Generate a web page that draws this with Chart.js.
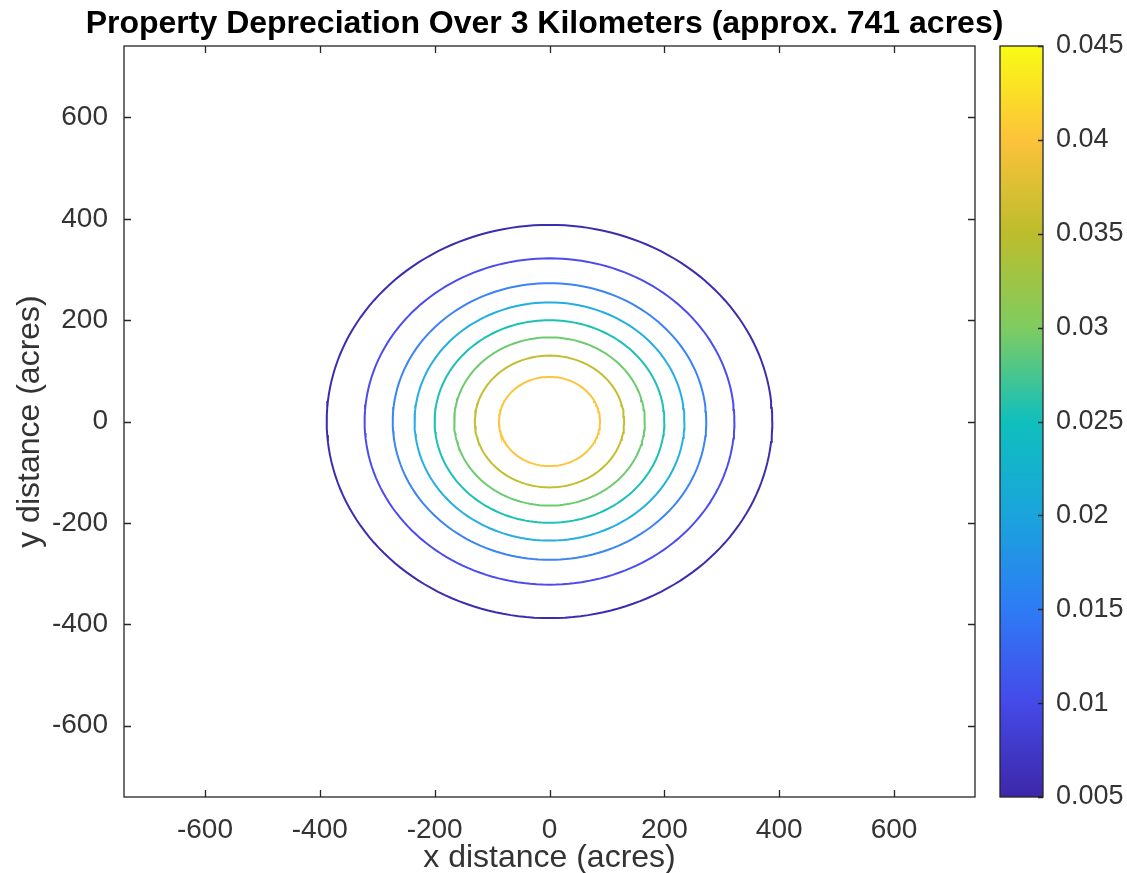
<!DOCTYPE html>
<html>
<head>
<meta charset="utf-8">
<script src="https://cdn.jsdelivr.net/npm/chart.js@4"></script>
<style>
  body { margin: 0; background: #fff; }
  #wrap { width: 1127px; height: 873px; }
</style>
</head>
<body>
<div id="wrap"><canvas id="contourChart"></canvas></div>
<script>
// contour levels and the radius (acres) each level crosses
const levels = [0.005, 0.01, 0.015, 0.02, 0.025, 0.03, 0.035, 0.04];
const radii = [388, 322, 273, 235, 200, 166, 130, 88];
const levelColors = ['#3b2db0', '#4a4cf0', '#3a84f5', '#24aee2', '#1cc0b4', '#6ccb70', '#c3bd30', '#fcc53a'];

const axisLimit = 741;
const xTicks = [-600, -400, -200, 0, 200, 400, 600];
const yTicks = [-600, -400, -200, 0, 200, 400, 600];

// colorbar
const cbTicks = [0.005, 0.01, 0.015, 0.02, 0.025, 0.03, 0.035, 0.04, 0.045];
const cbColors = ['#3d27a8', '#4549e8', '#2e7bf5', '#1aa4dc', '#10bfbd', '#7fcc60', '#bcbd2c', '#fcc23a', '#f9fb14'];

const chartTitle = 'Property Depreciation Over 3 Kilometers (approx. 741 acres)';
const fontFamily = 'Liberation Sans, Arial, sans-serif';
const textColor = '#333333';
const lineColor = '#262626';

document.addEventListener('DOMContentLoaded', function() {
    const datasets = levels.map(function(level, i) {
        const pts = [];
        for (let k = 0; k <= 180; k++) {
            const a = k / 180 * Math.PI * 2;
            pts.push({ x: radii[i] * Math.cos(a), y: radii[i] * Math.sin(a) });
        }
        return {
            label: String(level),
            data: pts,
            showLine: true,
            borderColor: levelColors[i],
            borderWidth: 2,
            pointRadius: 0,
            tension: 0
        };
    });

    // title, box, inward ticks and the colorbar
    const framePlugin = {
        id: 'frame',
        afterDraw: function(chart) {
            const ctx = chart.ctx;
            const area = chart.chartArea;
            const xs = chart.scales.x, ys = chart.scales.y, cb = chart.scales.cb;
            ctx.save();

            ctx.fillStyle = '#000';
            ctx.font = 'bold 32px ' + fontFamily;
            ctx.textAlign = 'center';
            ctx.textBaseline = 'middle';
            ctx.fillText(chartTitle, (area.left + area.right) / 2 - 5, 24);

            ctx.strokeStyle = lineColor;
            ctx.lineWidth = 1.3;
            ctx.strokeRect(area.left, area.top, area.right - area.left, area.bottom - area.top);
            ctx.beginPath();
            xTicks.forEach(function(v) {
                const px = Math.round(xs.getPixelForValue(v)) + 0.5;
                ctx.moveTo(px, area.bottom); ctx.lineTo(px, area.bottom - 7);
                ctx.moveTo(px, area.top); ctx.lineTo(px, area.top + 7);
            });
            yTicks.forEach(function(v) {
                const py = Math.round(ys.getPixelForValue(v)) + 0.5;
                ctx.moveTo(area.left, py); ctx.lineTo(area.left + 7, py);
                ctx.moveTo(area.right, py); ctx.lineTo(area.right - 7, py);
            });
            ctx.stroke();

            const barL = cb.left + 25, barR = cb.left + 68;
            const grad = ctx.createLinearGradient(0, area.bottom, 0, area.top);
            cbColors.forEach(function(c, i) { grad.addColorStop(i / (cbColors.length - 1), c); });
            ctx.fillStyle = grad;
            ctx.fillRect(barL, area.top, barR - barL, area.bottom - area.top);
            ctx.strokeRect(barL, area.top, barR - barL, area.bottom - area.top);
            ctx.beginPath();
            cbTicks.forEach(function(v) {
                const py = Math.round(cb.getPixelForValue(v)) + 0.5;
                ctx.moveTo(barR, py); ctx.lineTo(barR - 5, py);
            });
            ctx.stroke();

            ctx.fillStyle = textColor;
            ctx.font = '27px ' + fontFamily;
            ctx.textAlign = 'left';
            cbTicks.forEach(function(v) {
                ctx.fillText(String(+v.toFixed(3)), barR + 13, cb.getPixelForValue(v));
            });
            ctx.restore();
        }
    };

    const ctx = document.getElementById('contourChart').getContext('2d');
    new Chart(ctx, {
        type: 'scatter',
        data: { datasets: datasets },
        plugins: [framePlugin],
        options: {
            responsive: true,
            maintainAspectRatio: false,
            animation: false,
            layout: { padding: { top: 46, right: 0, bottom: 0, left: 0 } },
            scales: {
                x: {
                    type: 'linear',
                    min: -axisLimit,
                    max: axisLimit,
                    afterBuildTicks: function(scale) { scale.ticks = xTicks.map(function(v) { return { value: v }; }); },
                    afterFit: function(scale) { scale.height = 76; },
                    grid: { display: false, drawTicks: false },
                    border: { display: false },
                    ticks: { color: textColor, font: { family: fontFamily, size: 28 }, padding: 16, maxRotation: 0 },
                    title: { display: true, text: 'x distance (acres)', color: textColor, font: { family: fontFamily, size: 32 }, padding: { top: 0, bottom: -4 } }
                },
                y: {
                    type: 'linear',
                    min: -axisLimit,
                    max: axisLimit,
                    afterBuildTicks: function(scale) { scale.ticks = yTicks.map(function(v) { return { value: v }; }); },
                    afterFit: function(scale) { scale.width = 124; },
                    grid: { display: false, drawTicks: false },
                    border: { display: false },
                    ticks: { color: textColor, font: { family: fontFamily, size: 28 }, padding: 16 },
                    title: { display: true, text: 'y distance (acres)', color: textColor, font: { family: fontFamily, size: 32 }, padding: { top: 11, bottom: 0 } }
                },
                cb: {
                    type: 'linear',
                    position: 'right',
                    min: 0.005,
                    max: 0.045,
                    afterBuildTicks: function(scale) { scale.ticks = cbTicks.map(function(v) { return { value: v }; }); },
                    afterFit: function(scale) { scale.width = 152; },
                    grid: { display: false, drawTicks: false },
                    border: { display: false },
                    ticks: { display: false }
                }
            },
            plugins: {
                legend: { display: false },
                tooltip: { enabled: false },
                title: { display: false }
            }
        }
    });
});
</script>
</body>
</html>
